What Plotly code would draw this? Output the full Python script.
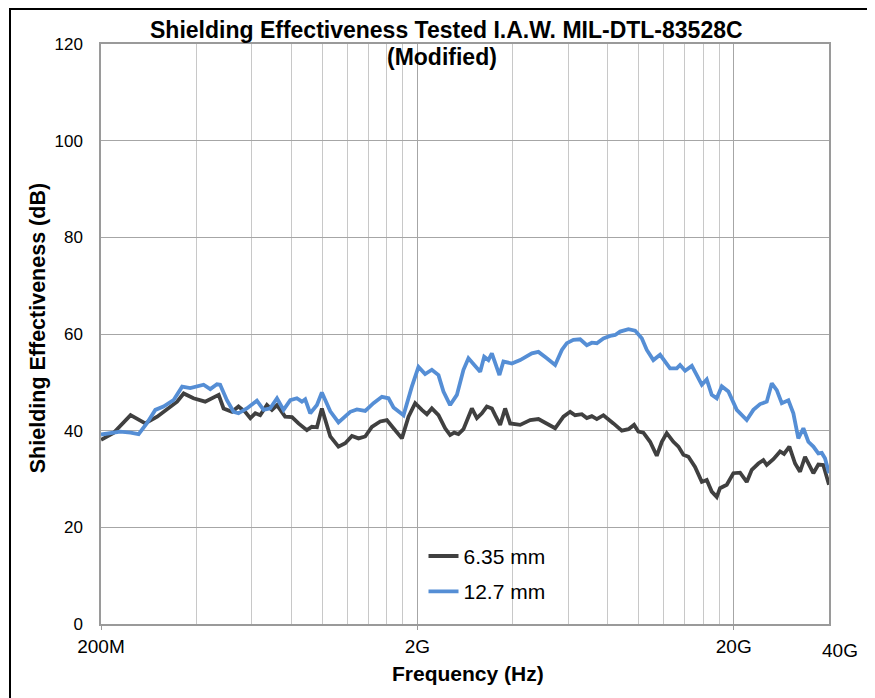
import numpy as np
import plotly.graph_objects as go

# ---------------- data (frequency in GHz, shielding effectiveness in dB) ----------------
freq_635_ghz = [0.200, 0.219, 0.248, 0.276, 0.301, 0.331, 0.348, 0.365, 0.392, 0.427,
                0.471, 0.488, 0.519, 0.544, 0.571, 0.593, 0.615, 0.637, 0.669, 0.694,
                0.720, 0.764, 0.803, 0.842, 0.895, 0.928, 0.963, 0.998, 1.061, 1.126,
                1.183, 1.242, 1.303, 1.368, 1.436, 1.526, 1.602, 1.681, 1.787, 1.875,
                1.968, 2.066, 2.143, 2.222, 2.332, 2.448, 2.538, 2.614, 2.697, 2.797,
                2.973, 3.084, 3.198, 3.316, 3.439, 3.522, 3.653, 3.788, 3.929, 4.226,
                4.545, 4.827, 5.131, 5.451, 5.790, 6.080, 6.304, 6.618, 6.864, 7.118,
                7.382, 7.745, 8.330, 8.854, 9.290, 9.683, 9.990, 10.36, 10.88, 11.42,
                11.85, 12.28, 12.89, 13.37, 13.86, 14.38, 15.09, 15.85, 16.43, 17.04,
                17.67, 18.10, 19.01, 19.94, 20.94, 21.98, 22.80, 23.92, 24.81, 25.43,
                26.68, 28.02, 28.84, 29.98, 31.25, 32.40, 33.60, 35.70, 37.02, 38.38,
                40.0]
se_635_db = [38.1, 39.5, 43.2, 41.5, 42.9, 45.0, 46.0, 47.7, 46.7, 46.0,
             47.4, 44.6, 43.9, 45.0, 43.9, 42.6, 43.6, 43.2, 45.3, 44.3,
             45.3, 42.9, 42.8, 41.5, 40.1, 40.8, 40.7, 44.6, 38.8, 36.7,
             37.4, 38.9, 38.4, 38.8, 40.8, 41.9, 42.2, 40.5, 38.4, 42.9,
             45.7, 44.3, 43.4, 44.6, 43.2, 40.5, 39.1, 39.6, 39.3, 40.3,
             44.6, 42.6, 43.6, 45.0, 44.6, 43.2, 41.2, 44.6, 41.5, 41.2,
             42.2, 42.4, 41.5, 40.5, 42.9, 43.9, 43.2, 43.4, 42.6, 43.0,
             42.4, 43.2, 41.5, 40.0, 40.3, 41.2, 39.8, 39.6, 37.7, 34.8,
             37.7, 39.5, 37.7, 36.7, 35.0, 34.6, 32.5, 29.4, 29.8, 27.4,
             26.3, 28.1, 28.8, 31.2, 31.3, 29.4, 31.9, 33.2, 33.9, 32.9,
             34.1, 35.7, 35.2, 36.7, 33.2, 31.5, 34.6, 31.2, 33.0, 32.9,
             28.8]

freq_127_ghz = [0.200, 0.230, 0.248, 0.263, 0.279, 0.297, 0.315, 0.339, 0.361, 0.383,
                0.422, 0.443, 0.465, 0.476, 0.500, 0.525, 0.544, 0.578, 0.622, 0.653,
                0.685, 0.720, 0.755, 0.793, 0.832, 0.863, 0.884, 0.917, 0.963, 0.998,
                1.061, 1.126, 1.227, 1.288, 1.368, 1.453, 1.545, 1.621, 1.681, 1.808,
                1.921, 2.016, 2.116, 2.222, 2.332, 2.418, 2.538, 2.666, 2.797, 2.900,
                3.159, 3.252, 3.354, 3.439, 3.634, 3.741, 3.978, 4.226, 4.601, 4.827,
                5.131, 5.451, 5.724, 5.935, 6.227, 6.538, 6.864, 7.118, 7.382, 7.745,
                8.133, 8.434, 8.746, 9.290, 9.755, 10.24, 10.62, 11.14, 11.70, 12.13,
                12.58, 13.21, 13.53, 14.04, 14.74, 15.28, 15.85, 16.43, 17.04, 17.67,
                18.33, 19.23, 20.44, 21.98, 23.07, 24.22, 25.43, 26.38, 27.35, 28.37,
                29.76, 30.86, 32.00, 33.19, 34.42, 35.70, 37.02, 37.94, 38.85, 40.0]
se_127_db = [39.2, 39.8, 39.6, 39.3, 41.5, 44.3, 45.0, 46.3, 49.1, 48.8,
             49.5, 48.6, 49.6, 49.5, 46.3, 43.9, 43.6, 44.6, 46.2, 44.3,
             44.6, 46.7, 44.3, 46.3, 46.7, 46.0, 46.5, 43.6, 45.3, 47.9,
             44.0, 41.7, 43.9, 44.4, 44.1, 45.7, 47.0, 46.7, 44.8, 43.2,
             49.1, 53.2, 51.7, 52.6, 51.5, 48.1, 45.3, 47.4, 52.6, 55.0,
             52.2, 55.3, 54.6, 56.0, 51.5, 54.3, 53.9, 54.6, 56.0, 56.3,
             55.0, 53.6, 56.7, 58.1, 58.8, 58.9, 57.7, 58.2, 58.1, 59.1,
             59.6, 59.8, 60.5, 61.0, 60.7, 59.1, 56.7, 54.6, 55.7, 54.3,
             52.9, 52.9, 53.6, 52.4, 53.4, 51.5, 49.5, 50.6, 47.4, 46.7,
             49.2, 48.1, 44.3, 42.2, 44.3, 45.5, 46.0, 49.8, 48.4, 45.7,
             46.3, 43.6, 38.4, 40.5, 37.7, 36.7, 35.3, 35.4, 34.3, 31.2]

series_names = ["6.35 mm", "12.7 mm"]
series_colors = ["#404040", "#558ED5"]

x_label_vals = [2e8, 2e9, 2e10]
x_label_text = ["200M", "2G", "20G"]
x_end_label = "40G"
minor_grid_ghz = [0.4, 0.6, 0.8, 1.0, 1.2, 1.4, 1.6, 1.8,
                  4, 6, 8, 10, 12, 14, 16, 18]
y_ticks = [0, 20, 40, 60, 80, 100, 120]

title_line1 = "Shielding Effectiveness Tested I.A.W. MIL-DTL-83528C"
title_line2 = "(Modified)"

FONT = "Liberation Sans, Arial, sans-serif"

x_range = [np.log10(2e8), np.log10(4e10)]

fig = go.Figure()
for name, color, fx, sy, grp in [
    (series_names[0], series_colors[0], freq_635_ghz, se_635_db, "a"),
    (series_names[1], series_colors[1], freq_127_ghz, se_127_db, "b"),
]:
    fig.add_trace(go.Scatter(
        x=np.array(fx) * 1e9, y=sy, mode="lines", name=name,
        legendgroup=grp,
        line=dict(color=color, width=3.8),
    ))

# dummy trace to attach the major-grid overlay axis
fig.add_trace(go.Scatter(x=[2e8, 4e10], y=[None, None], xaxis="x2",
                         showlegend=False, hoverinfo="skip", mode="lines"))

fig.update_layout(
    width=875, height=698,
    margin=dict(l=93, r=54, t=36, b=82),
    paper_bgcolor="white", plot_bgcolor="white",
    font=dict(family=FONT, color="#000000", size=18),
    showlegend=True,
    legend=dict(x=0.443, y=0.152, xanchor="left", yanchor="top",
                bgcolor="rgba(0,0,0,0)", font=dict(size=21, family=FONT),
                traceorder="grouped", tracegroupgap=5),
    xaxis=dict(type="log", range=x_range,
               tickvals=[g * 1e9 for g in minor_grid_ghz],
               showticklabels=False, ticks="",
               showgrid=True, gridcolor="#c8c8c8", gridwidth=1,
               showline=True, linecolor="#9a9a9a", linewidth=1.5, mirror=True,
               zeroline=False),
    xaxis2=dict(type="log", range=x_range, overlaying="x", anchor="y", side="bottom",
                tickvals=x_label_vals, ticktext=x_label_text,
                ticks="outside", ticklen=5, tickcolor="#9a9a9a",
                ticklabelstandoff=0,
                tickfont=dict(size=19, family=FONT, color="#000000"),
                showgrid=True, gridcolor="#a6a6a6", gridwidth=1,
                showline=False, zeroline=False),
    yaxis=dict(range=[0, 120], tickvals=y_ticks,
               tickfont=dict(size=17, family=FONT, color="#000000"),
               ticks="", ticklabelstandoff=13,
               showgrid=True, gridcolor="#a6a6a6", gridwidth=1,
               showline=True, linecolor="#9a9a9a", linewidth=1.5, mirror=True,
               zeroline=False),
)

fig.add_annotation(text=title_line1, xref="paper", yref="paper", x=0.474, y=1.0241,
                   xanchor="center", yanchor="middle", showarrow=False,
                   font=dict(size=23, family=FONT, color="#000000", weight="bold"))
fig.add_annotation(text=title_line2, xref="paper", yref="paper", x=0.468, y=0.9776,
                   xanchor="center", yanchor="middle", showarrow=False,
                   font=dict(size=23, family=FONT, color="#000000", weight="bold"))
fig.add_annotation(text="Frequency (Hz)", xref="paper", yref="paper",
                   x=0.504, y=-0.0845, xanchor="center", yanchor="middle",
                   showarrow=False,
                   font=dict(size=21, family=FONT, color="#000000", weight="bold"))
fig.add_annotation(text="Shielding Effectiveness (dB)", xref="paper", yref="paper",
                   x=-0.0865, y=0.51, xanchor="center", yanchor="middle",
                   textangle=-90, showarrow=False,
                   font=dict(size=21.5, family=FONT, color="#000000", weight="bold"))
fig.add_annotation(text=x_end_label, xref="paper", yref="paper",
                   x=1.015, y=-0.045, xanchor="center", yanchor="middle",
                   showarrow=False, font=dict(size=19, family=FONT, color="#000000"))

# outer chart border
fig.add_shape(type="rect", xref="paper", yref="paper",
              x0=(2 - 93) / 728, x1=(864 - 93) / 728,
              y0=(616 - 702) / 580, y1=(616 - 1) / 580,
              line=dict(color="#000000", width=2), fillcolor="rgba(0,0,0,0)",
              layer="above")

fig.write_html("out.html")
